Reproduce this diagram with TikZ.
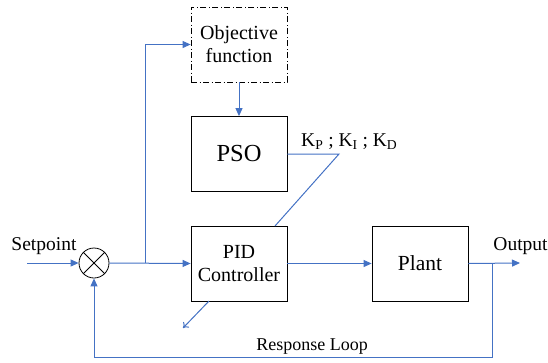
\documentclass[tikz,border=0pt]{standalone}
\usepackage{fontspec}
\setmainfont{Liberation Serif}
\usetikzlibrary{arrows.meta}
\definecolor{lblue}{HTML}{4472C4}
\begin{document}
\begin{tikzpicture}[x=1pt,y=-1pt,
 box/.style={draw=black, line width=0.8pt, minimum width=96pt, minimum height=75pt, inner sep=0pt, align=center, font=\fontsize{20}{23}\selectfont},
 conn/.style={draw=lblue, line width=1pt},
 arr/.style={conn, -{Triangle[length=8pt,width=7pt]}},
 lbl/.style={inner sep=0pt, font=\fontsize{19.5}{22}\selectfont},
]
\useasboundingbox (0,0) rectangle (548,362);
\node[box, dash pattern=on 6pt off 2.5pt on 1pt off 2.5pt] (obj) at (239,44.5) {Objective\\function};
\node[box, font=\fontsize{24.5}{28}\selectfont] (pso) at (239,154) {PSO};
\node[box] (pid) at (239,263.5) {PID\\Controller};
\node[box, font=\fontsize{21.5}{24}\selectfont] (plant) at (420,263.5) {Plant};
\node[circle, draw=black, line width=0.8pt, minimum size=30pt, inner sep=0pt] (sum) at (94,263) {};
\draw[line width=0.8pt] (sum.north west) -- (sum.south east);
\draw[line width=0.8pt] (sum.north east) -- (sum.south west);

\coordinate (sp) at (27,263);
\coordinate (br1) at (145,263);
\coordinate (k) at (339,154);
\coordinate (kpid) at (275,226);
\coordinate (out) at (520,263);
\coordinate (br2) at (492,263);
\coordinate (fb) at (94,357);
\coordinate (d1) at (209,301);
\coordinate (d2) at (183,328);

\draw[arr] (sp) -- (sum.west);
\draw[arr] (sum.east) -- (pid.west);
\draw[arr] (br1) |- (obj.west);
\draw[arr] (obj.south) -- (pso.north);
\draw[conn] (pso.east) -- (k) -- (kpid);
\draw[arr] (pid.east) -- (plant.west);
\draw[arr] (plant.east) -- (out);
\draw[arr] (br2) |- (fb) -- (sum.south);
\draw[conn, -{To[length=5pt,width=8pt]}] (d1) -- (d2);

\node[lbl, anchor=base] (splbl) at (44,250) {Setpoint};
\node[lbl, anchor=base] (outlbl) at (520.5,250) {Output};
\node[lbl, anchor=base, font=\fontsize{18}{20}\selectfont] (rl) at (312,350) {Response Loop};
\node[lbl, anchor=base west, font=\fontsize{19.5}{22}\selectfont] (klbl) at (301,146) {K\textsubscript{P} ; K\textsubscript{I} ; K\textsubscript{D}};
\end{tikzpicture}
\end{document}
